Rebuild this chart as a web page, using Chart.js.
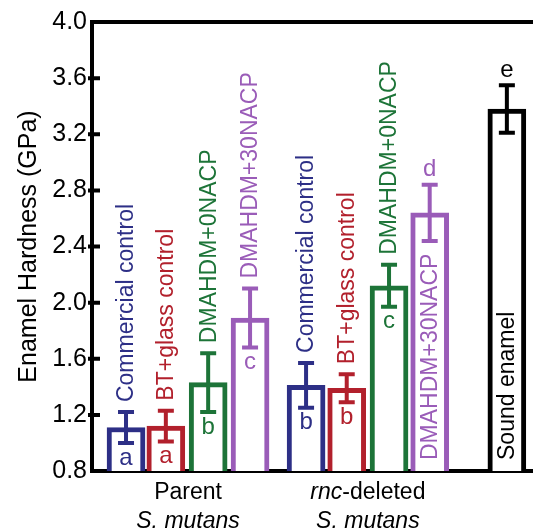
<!DOCTYPE html>
<html>
<head>
<meta charset="utf-8">
<script src="https://cdn.jsdelivr.net/npm/chart.js@4.4.0/dist/chart.umd.min.js"></script>
<style>
  body { margin: 0; background: #fff; }
  #wrap { width: 533px; height: 531px; }
</style>
</head>
<body>
<div id="wrap"><canvas id="hardnessChart"></canvas></div>
<script>
// Data
const groups = ['Parent', 'rnc-deleted', ''];
const conditions = ['Commercial control', 'BT+glass control', 'DMAHDM+0NACP', 'DMAHDM+30NACP',
                    'Commercial control', 'BT+glass control', 'DMAHDM+0NACP', 'DMAHDM+30NACP',
                    'Sound enamel'];
const groupOf = [0, 0, 0, 0, 1, 1, 1, 1, 2];
const means = [1.11, 1.12, 1.43, 1.89, 1.41, 1.39, 2.12, 2.64, 3.38];
const errs = [0.11, 0.11, 0.21, 0.21, 0.16, 0.10, 0.15, 0.20, 0.17];
const letters = ['a', 'a', 'b', 'c', 'b', 'b', 'c', 'd', 'e'];
const yTicks = [0.8, 1.2, 1.6, 2.0, 2.4, 2.8, 3.2, 3.6, 4.0];

// Layout / style
const slotX = [0.82, 1.78, 2.80, 3.81, 5.16, 6.14, 7.16, 8.14, 10.0];
const labelInside = [false, false, false, false, false, false, false, true, true];
const letterAbove = [false, false, false, false, false, false, false, true, true];
const palette = ['#2d2f86', '#b2202c', '#1d7438', '#9a5cb8'];
const barColors = [0, 1, 2, 3, 0, 1, 2, 3].map(i => palette[i]).concat(['#000000']);
const FONT = '"Liberation Sans", Arial, sans-serif';

//Draw error bars, letters, rotated labels, frame and x labels
const annotate = {
    id: 'annotate',
    afterDatasetsDraw(chart) {
        const ctx = chart.ctx;
        const y = chart.scales.y;
        const area = chart.chartArea;
        const meta = chart.getDatasetMeta(0);
        meta.data.forEach((bar, i) => {
            const c = barColors[i];
            const x = bar.x;
            const top = y.getPixelForValue(means[i] + errs[i]);
            const bot = y.getPixelForValue(means[i] - errs[i]);
            ctx.save();
            ctx.strokeStyle = c;
            ctx.lineWidth = 4;
            ctx.beginPath();
            ctx.moveTo(x, top); ctx.lineTo(x, bot);
            ctx.moveTo(x - 8, top); ctx.lineTo(x + 8, top);
            ctx.moveTo(x - 8, bot); ctx.lineTo(x + 8, bot);
            ctx.stroke();

            ctx.fillStyle = c;
            ctx.font = '24px ' + FONT;
            ctx.textAlign = 'center';
            ctx.textBaseline = 'middle';
            ctx.fillText(letters[i], x, letterAbove[i] ? top - 15 : bot + 15);

            ctx.font = '23px ' + FONT;
            ctx.translate(x, labelInside[i] ? area.bottom - 11 : top - 10);
            ctx.rotate(-Math.PI / 2);
            ctx.textAlign = 'left';
            ctx.fillText(conditions[i], 0, 1);
            ctx.restore();
        });
    },
    afterDraw(chart) {
        const ctx = chart.ctx;
        const y = chart.scales.y;
        const area = chart.chartArea;
        ctx.save();
        ctx.strokeStyle = '#000';
        ctx.lineWidth = 4;
        ctx.beginPath();
        ctx.moveTo(area.left - 2, area.top);
        ctx.lineTo(area.right, area.top);
        yTicks.slice(1, -1).forEach(t => {
            const py = y.getPixelForValue(t);
            ctx.moveTo(area.left - 4, py);
            ctx.lineTo(area.left + 8, py);
        });
        ctx.stroke();

        // group labels under the axis
        const meta = chart.getDatasetMeta(0);
        ctx.fillStyle = '#000';
        ctx.textBaseline = 'middle';
        ctx.textAlign = 'left';
        [0, 1].forEach(g => {
            const xs = meta.data.filter((b, i) => groupOf[i] === g).map(b => b.x);
            const cx = (Math.min(...xs) + Math.max(...xs)) / 2;
            let parts = g === 0 ? [['Parent', false]] : [['rnc', true], ['-deleted', false]];
            const fontOf = it => (it ? 'italic ' : '') + '23px ' + FONT;
            let w = 0;
            parts.forEach(p => { ctx.font = fontOf(p[1]); w += ctx.measureText(p[0]).width; });
            let px = cx - w / 2;
            parts.forEach(p => {
                ctx.font = fontOf(p[1]);
                ctx.fillText(p[0], px, 493);
                px += ctx.measureText(p[0]).width;
            });
            ctx.font = fontOf(true);
            ctx.textAlign = 'center';
            ctx.fillText('S. mutans', cx, 522);
            ctx.textAlign = 'left';
        });
        ctx.restore();
    }
};

const ctx = document.getElementById('hardnessChart').getContext('2d');
const hardnessChart = new Chart(ctx, {
    type: 'bar',
    data: {
        datasets: [{
            data: means.map((m, i) => ({ x: slotX[i], y: m })),
            base: 0.8,
            backgroundColor: '#ffffff',
            borderColor: barColors,
            borderWidth: 5,
            borderSkipped: 'start',
            barThickness: 38
        }]
    },
    options: {
        responsive: true,
        maintainAspectRatio: false,
        animation: false,
        layout: { padding: { top: 22, right: 0, left: 0, bottom: 0 } },
        plugins: { legend: { display: false }, tooltip: { enabled: false } },
        scales: {
            x: {
                type: 'linear',
                min: 0,
                max: 10.63,
                offset: false,
                grid: { display: false, drawTicks: false },
                border: { display: true, color: '#000', width: 4 },
                ticks: { display: false },
                afterFit(scale) { scale.height = 60; }
            },
            y: {
                min: 0.8,
                max: 4.0,
                grid: { display: false, drawTicks: false },
                border: { display: true, color: '#000', width: 4 },
                ticks: {
                    stepSize: 0.4,
                    padding: 5,
                    color: '#000',
                    font: { family: FONT, size: 25 },
                    callback: v => Number(v).toFixed(1)
                },
                title: {
                    display: true,
                    text: 'Enamel Hardness (GPa)',
                    color: '#000',
                    font: { family: FONT, size: 25 },
                    padding: { top: 14, bottom: 0 }
                },
                afterFit(scale) { scale.width = 92; }
            }
        }
    },
    plugins: [annotate]
});
</script>
</body>
</html>
